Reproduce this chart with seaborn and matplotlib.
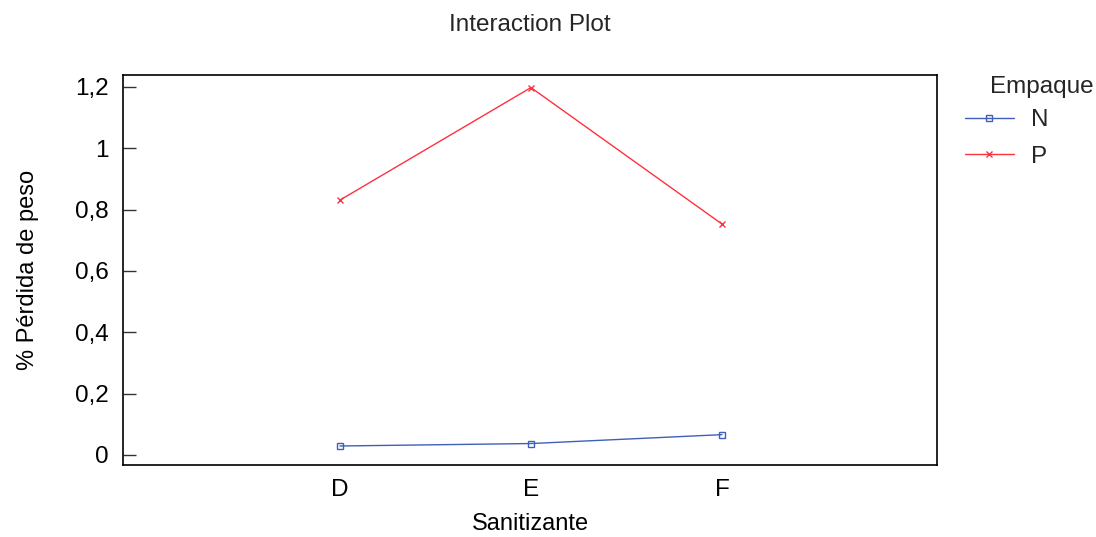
import matplotlib
matplotlib.use("Agg")
import matplotlib.pyplot as plt
import seaborn as sns
import pandas as pd
from matplotlib.lines import Line2D
from matplotlib.ticker import FuncFormatter

sanitizante = ["D", "E", "F"]
empaque = ["N", "P"]
n_values = [0.029, 0.037, 0.066]
p_values = [0.831, 1.198, 0.753]

df = pd.DataFrame({
    "Sanitizante": sanitizante * 2,
    "Empaque": ["N"] * 3 + ["P"] * 3,
    "value": n_values + p_values,
})

sns.set_theme(style="white")
plt.rcParams["font.family"] = ["Liberation Sans", "DejaVu Sans"]

colors = {"N": "#4060B8", "P": "#FF3040"}
markers = {"N": "s", "P": "x"}

fig = plt.figure(figsize=(10.96, 5.37), dpi=100)
ax = fig.add_axes([123 / 1096, 72 / 537, (937 - 123) / 1096, (465 - 75) / 537])

for e in empaque:
    sub = df[df["Empaque"] == e]
    sns.lineplot(data=sub, x="Sanitizante", y="value", color=colors[e], marker=markers[e],
                 ax=ax, linewidth=1.0, markersize=5, legend=False,
                 markerfacecolor="none", markeredgecolor=colors[e], markeredgewidth=1.0)

ax.set_xlim(-1.136, 3.126)
ax.set_ylim(-0.033, 1.239)
ax.set_yticks([0, 0.2, 0.4, 0.6, 0.8, 1.0, 1.2])
ax.yaxis.set_major_formatter(FuncFormatter(lambda v, p: ("%g" % round(v, 1)).replace(".", ",")))

for s in ax.spines.values():
    s.set_color("black")
    s.set_linewidth(1.2)

ax.tick_params(axis="y", direction="in", length=9, width=1.0, color="#333333",
               labelsize=17.5, left=True, labelcolor="black", pad=10)
ax.tick_params(axis="x", direction="in", length=0, labelsize=17.5, bottom=True,
               labelcolor="black", pad=10)

ax.set_xlabel("Sanitizante", fontsize=17, labelpad=9, color="black")
ax.set_ylabel("% Pérdida de peso", fontsize=17, labelpad=26, color="black")
fig.text(530 / 1096, 1 - 25 / 537, "Interaction Plot", ha="center", va="center", fontsize=17.5)

fig.text(990 / 1096, 1 - 87 / 537, "Empaque", ha="left", va="center", fontsize=17.5)
handles = [Line2D([], [], color=colors[e], marker=markers[e], markerfacecolor="none",
                  markersize=5, linewidth=1.0) for e in empaque]
leg = fig.legend(handles, empaque, loc="upper left",
                 bbox_to_anchor=(965 / 1096, 1 - 109 / 537), frameon=False,
                 fontsize=17.5, handlelength=2.0, labelspacing=0.6,
                 borderaxespad=0, borderpad=0, handletextpad=0.7)

fig.savefig("out.png", dpi=100)
